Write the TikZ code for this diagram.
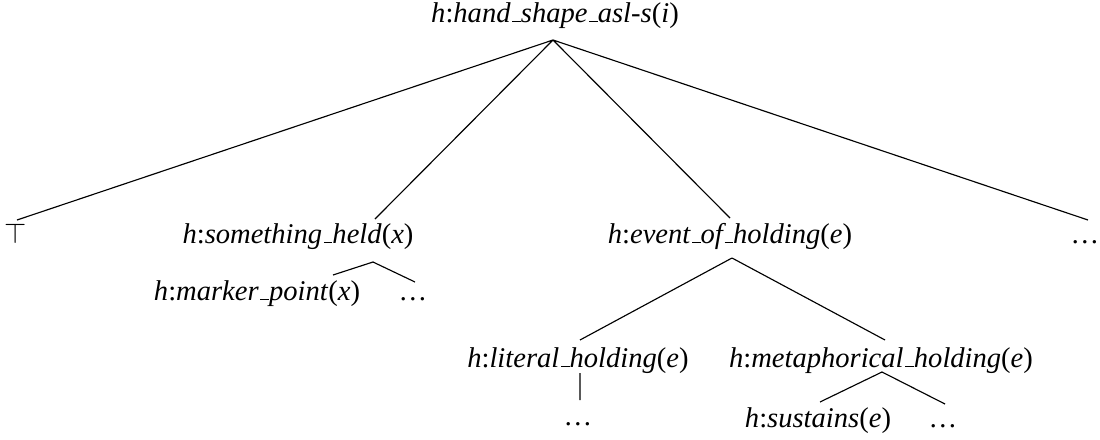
\documentclass[tikz,border=0pt]{standalone}
\usepackage{fontspec}
\setmainfont{Liberation Serif}
\usetikzlibrary{positioning}
\newcommand{\us}{\kern.06em\vbox{\hrule width.3em}}
\newcommand{\hpred}[2]{\textit{h}:\textit{#1}(\textit{#2})}
\begin{document}
\begin{tikzpicture}[x=0.35pt, y=-0.35pt, every node/.style={anchor=base, inner sep=0pt}]
			\useasboundingbox (0,0) rectangle (1100,439);
			% labels
			\node (root) at (555,22) {\hpred{hand\us shape\us asl-s}{i}};
			\node (top) at (16,243) {$\top$};
			\node (held) at (298,243) {\hpred{something\us held}{x}};
			\node (event) at (730,243) {\hpred{event\us of\us holding}{e}};
			\node (more) at (1085,243) {\dots};
			\node (marker) at (257,300) {\hpred{marker\us point}{x}};
			\node (heldmore) at (413,300) {\dots};
			\node (literal) at (578,367) {\hpred{literal\us holding}{e}};
			\node (meta) at (881,367) {\hpred{metaphorical\us holding}{e}};
			\node (litmore) at (578,425) {\dots};
			\node (sustains) at (818,427) {\hpred{sustains}{e}};
			\node (metamore) at (943,427) {\dots};

			% branch points
			\coordinate (r) at (553,40);
			\coordinate (r1) at (17,220);
			\coordinate (r2) at (375,219);
			\coordinate (r3) at (730,218);
			\coordinate (r4) at (1088,220);
			\coordinate (h) at (373,262);
			\coordinate (h1) at (333,275);
			\coordinate (h2) at (415,282);
			\coordinate (v) at (732,258);
			\coordinate (v1) at (580,340);
			\coordinate (v2) at (885,340);
			\coordinate (l) at (580,373);
			\coordinate (l1) at (580,400);
			\coordinate (m) at (882,372);
			\coordinate (m1) at (820,402);
			\coordinate (m2) at (945,404);

			\draw
			(r) -- (r1) (r) -- (r2) (r) -- (r3) (r) -- (r4)
			(h) -- (h1) (h) -- (h2)
			(v) -- (v1) (v) -- (v2)
			(l) -- (l1)
			(m) -- (m1) (m) -- (m2);
		\end{tikzpicture}
\end{document}
